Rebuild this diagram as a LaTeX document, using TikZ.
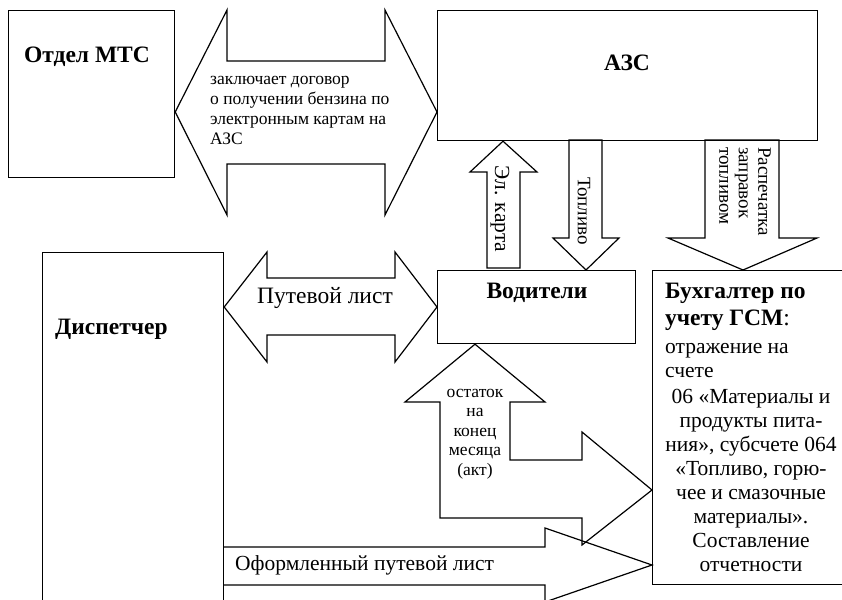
\documentclass[tikz,border=0pt]{standalone}
\usepackage{fontspec}
\setmainfont{Liberation Serif}
\usetikzlibrary{calc,positioning}

\tikzset{
	box/.style={draw, line width=1.2pt, anchor=north west, inner sep=0pt},
	blk/.style={draw, line width=1.2pt, line join=miter},
	bname/.style={font=\fontsize{23.5}{24}\selectfont\bfseries, inner sep=0pt},
	bhead/.style={font=\fontsize{23.5}{27}\selectfont\bfseries, inner sep=0pt},
	btxt/.style={font=\fontsize{21.5}{24}\selectfont, inner sep=0pt},
	mtxt/.style={font=\fontsize{21.5}{24}\selectfont, inner sep=0pt},
	stxt/.style={font=\fontsize{17.5}{20}\selectfont, inner sep=0pt},
	vtxt/.style={font=\fontsize{19}{19.5}\selectfont, inner sep=0pt, rotate=-90},
}

\begin{document}
\begin{tikzpicture}[x=1pt,y=-1pt]
	\useasboundingbox (0,0) rectangle (842,599);
	\clip (0,0) rectangle (842,599);
	% blocks
	\node[box, minimum width=166pt, minimum height=167pt] (mts) at (8,10) {};
	\node[box, minimum width=380pt, minimum height=130pt] (azs) at (437,10) {};
	\node[box, minimum width=198pt, minimum height=73pt] (vod) at (437,270) {};
	\node[box, minimum width=181pt, minimum height=380pt] (disp) at (42,252) {};
	\node[box, minimum width=220pt, minimum height=314pt] (buh) at (652,270) {};
	\node[bname] (mts-t) at (87,57) {Отдел МТС};
	\node[bname] (azs-t) at (627,63) {АЗС};
	\node[bname] (vod-t) at (537,293) {Водители};
	\node[bname, anchor=west] (disp-t) at (55,329) {Диспетчер};
	\node[bhead, anchor=west, align=left] (buh-h) at (665,307) {Бухгалтер по\\учету ГСМ\textmd{:}};
	\node[btxt, anchor=west, align=left] (buh-a) at (665,361) {отражение на\\счете};
	\node[btxt, align=center] (buh-b) at (751,480) {06 «Материалы и\\продукты пита-\\ния», субсчете 064\\«Топливо, горю-\\чее и смазочные\\материалы».\\Составление\\отчетности};
	% block arrows
	\draw[blk] (mts.east |- 0,112) -- (227,10) -- (227,61) -- (385,61) -- (385,10) -- (azs.west |- 0,112) -- (385,215) -- (385,164) -- (227,164) -- (227,215) -- cycle;
	\draw[blk] (disp.east |- 0,307) -- (267,252) -- (267,278) -- (395,278) -- (395,252) -- (vod.west |- 0,307) -- (395,362) -- (395,335) -- (267,335) -- (267,362) -- cycle;
	\draw[blk] (azs.south -| 503,0) -- (537,172) -- (520,172) -- (520,268) -- (487,268) -- (487,172) -- (470,172) -- cycle;
	\draw[blk] (569,140) -- (602,140) -- (602,238) -- (619,238) -- (vod.north -| 586,0) -- (553,238) -- (569,238) -- cycle;
	\draw[blk] (705,140) -- (779,140) -- (779,238) -- (817,238) -- (buh.north -| 743,0) -- (668,238) -- (705,238) -- cycle;
	\draw[blk] (vod.south -| 475,0) -- (545,402) -- (510,402) -- (510,460) -- (582,460) -- (582,432) -- (buh.west |- 0,490) -- (582,545) -- (582,518) -- (440,518) -- (440,402) -- (405,402) -- cycle;
	\draw[blk] (disp.east |- 0,547) -- (545,547) -- (545,528) -- (buh.west |- 0,565) -- (545,602) -- (545,585) -- (disp.east |- 0,585);
	% arrow labels
	\node[stxt, anchor=west, align=left] (dog) at (210,110) {заключает договор\\о получении бензина по\\электронным картам на\\АЗС};
	\node[mtxt, font=\fontsize{23.5}{24}\selectfont] (put) at (325,298) {Путевой лист};
	\node[mtxt, anchor=west] (oput) at (235,565) {Оформленный путевой лист};
	\node[stxt, align=center, font=\fontsize{17.5}{19.5}\selectfont] (ost) at (475,434) {остаток\\на\\конец\\месяца\\(акт)};
	\node[vtxt, font=\fontsize{21.5}{20}\selectfont] (karta) at (500,209) {Эл. карта};
	\node[vtxt] (topl) at (584,211) {Топливо};
	\node[vtxt, anchor=north west, align=left] (rasp) at (771,147) {Распечатка\\заправок\\топливом};
\end{tikzpicture}
\end{document}
